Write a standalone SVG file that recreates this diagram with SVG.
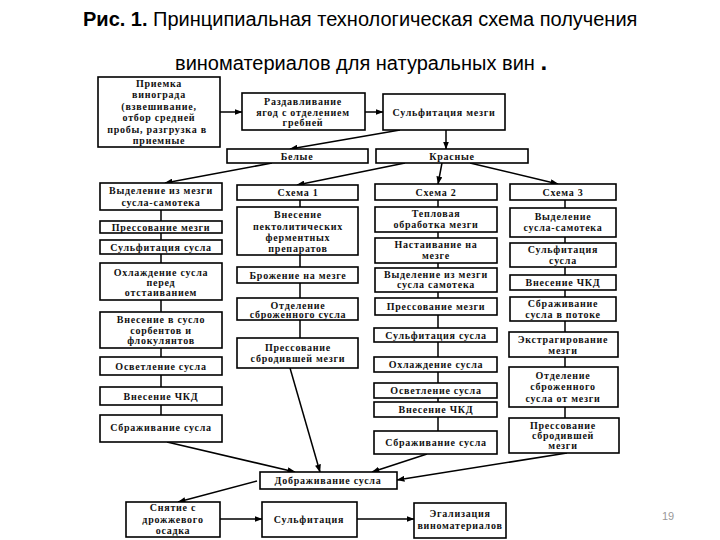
<svg xmlns="http://www.w3.org/2000/svg" width="720" height="540" viewBox="0 0 720 540">
<style>
.b{fill:#fff;stroke:#000;stroke-width:1.6}
.t{font-family:"Liberation Serif","DejaVu Serif",serif;font-size:10px;font-weight:bold;letter-spacing:0.75px;text-anchor:middle;fill:#111}
.c{stroke:#000;stroke-width:1.5;fill:none}
.a{stroke:#000;stroke-width:1.5;fill:none;marker-end:url(#ah)}
.h{font-family:"Liberation Sans",Arial,sans-serif;font-size:20px;fill:#000}
</style>
<defs>
<marker id="ah" markerWidth="8" markerHeight="6" refX="7.5" refY="3" orient="auto" markerUnits="userSpaceOnUse">
<path d="M0,0 L8,3 L0,6 Z" fill="#000"/>
</marker>
</defs>
<rect width="720" height="540" fill="#fff"/>
<text class="h" x="83" y="26"><tspan font-weight="bold">Рис. 1.</tspan> Принципиальная технологическая схема получения</text>
<text class="h" x="175" y="70">виноматериалов для натуральных вин <tspan font-weight="bold" font-size="24">.</tspan></text>

<g id="connectors">
<path class="a" d="M220,112 L242,112"/>
<path class="a" d="M365,112 L383,112"/>
<path class="a" d="M400,130 L290,149"/>
<path class="a" d="M446,130 L446,149"/>
<path class="a" d="M272,163 L165,183"/>
<path class="a" d="M405,163 L297,185"/>
<path class="a" d="M442,163 L438,184"/>
<path class="a" d="M470,163 L558,184"/>
<path class="c" d="M161,210 V221 M161,233 V240 M161,254 V263 M161,300 V312 M161,348 V357 M161,375 V387 M161,405 V415"/>
<path class="c" d="M300,200 V207 M300,255 V267 M300,283 V298 M300,320 V338"/>
<path class="c" d="M438,200 V207 M438,232 V238 M438,263 V268 M438,292 V298 M438,315 V328 M438,342 V357 M438,372 V383 M438,398 V402 M438,417 V431"/>
<path class="c" d="M565,200 V208 M565,237 V243 M565,267 V275 M565,290 V297 M565,321 V332 M565,357 V367 M565,407 V418"/>
<path class="a" d="M167,442 L295,472"/>
<path class="a" d="M290,368 L320,472"/>
<path class="a" d="M427,454 L372,472"/>
<path class="a" d="M567,453 L397,480"/>
<path class="a" d="M257,481 L178,502"/>
<path class="a" d="M220,519 L262,519"/>
<path class="a" d="M357,519 L414,519"/>
</g>

<g id="n-priemka"><rect class="b" x="98" y="77" width="122" height="70"/>
<text class="t" x="159" y="86.5">Приемка</text><text class="t" x="159" y="98">винограда</text><text class="t" x="159" y="109.5">(взвешивание,</text><text class="t" x="159" y="121">отбор средней</text><text class="t" x="157" y="132.5">пробы, разгрузка в</text><text class="t" x="159" y="144">приемные</text></g>
<g id="n-razdav"><rect class="b" x="242" y="93" width="123" height="37"/>
<text class="t" x="303" y="104.5">Раздавливание</text><text class="t" x="303" y="115.5">ягод с отделением</text><text class="t" x="303" y="126">гребней</text></g>
<g id="n-sulf-mezgi"><rect class="b" x="383" y="94" width="122" height="36"/>
<text class="t" x="444" y="115.5">Сульфитация мезги</text></g>
<g id="n-belye"><rect class="b" x="227" y="149" width="141" height="14"/>
<text class="t" x="297" y="159.5">Белые</text></g>
<g id="n-krasnye"><rect class="b" x="376" y="149" width="152" height="14"/>
<text class="t" x="452" y="159.5">Красные</text></g>

<g id="l1"><rect class="b" x="100" y="183" width="122" height="27"/><text class="t" x="161" y="193.5">Выделение из мезги</text><text class="t" x="161" y="205.5">сусла-самотека</text></g>
<g id="l2"><rect class="b" x="100" y="221" width="122" height="12"/><text class="t" x="161" y="230.5">Прессование мезги</text></g>
<g id="l3"><rect class="b" x="100" y="240" width="122" height="14"/><text class="t" x="161" y="250.5">Сульфитация сусла</text></g>
<g id="l4"><rect class="b" x="100" y="263" width="122" height="37"/><text class="t" x="161" y="275.5">Охлаждение сусла</text><text class="t" x="161" y="285.5">перед</text><text class="t" x="161" y="295.5">отстаиванием</text></g>
<g id="l5"><rect class="b" x="100" y="312" width="122" height="36"/><text class="t" x="161" y="322.5">Внесение в сусло</text><text class="t" x="161" y="333.5">сорбентов и</text><text class="t" x="161" y="343.5">флокулянтов</text></g>
<g id="l6"><rect class="b" x="100" y="357" width="122" height="18"/><text class="t" x="161" y="369.5">Осветление сусла</text></g>
<g id="l7"><rect class="b" x="100" y="387" width="122" height="18"/><text class="t" x="161" y="399.5">Внесение ЧКД</text></g>
<g id="l8"><rect class="b" x="100" y="415" width="122" height="27"/><text class="t" x="161" y="431">Сбраживание сусла</text></g>

<g id="s1a"><rect class="b" x="237" y="185" width="121" height="15"/><text class="t" x="298" y="195.5">Схема 1</text></g>
<g id="s1b"><rect class="b" x="237" y="207" width="121" height="48"/><text class="t" x="298" y="217.5">Внесение</text><text class="t" x="298" y="229.5">пектолитических</text><text class="t" x="298" y="241">ферментных</text><text class="t" x="298" y="252">препаратов</text></g>
<g id="s1c"><rect class="b" x="237" y="267" width="121" height="16"/><text class="t" x="298" y="278.5">Брожение на мезге</text></g>
<g id="s1d"><rect class="b" x="237" y="298" width="121" height="22"/><text class="t" x="298" y="308.5">Отделение</text><text class="t" x="298" y="318">сброженного сусла</text></g>
<g id="s1e"><rect class="b" x="237" y="338" width="121" height="30"/><text class="t" x="298" y="351">Прессование</text><text class="t" x="298" y="362">сбродившей мезги</text></g>

<g id="s2a"><rect class="b" x="375" y="184" width="122" height="16"/><text class="t" x="436" y="195.5">Схема 2</text></g>
<g id="s2b"><rect class="b" x="375" y="207" width="122" height="25"/><text class="t" x="436" y="216.5">Тепловая</text><text class="t" x="436" y="228">обработка мезги</text></g>
<g id="s2c"><rect class="b" x="375" y="238" width="122" height="25"/><text class="t" x="436" y="247.5">Настаивание на</text><text class="t" x="436" y="259">мезге</text></g>
<g id="s2d"><rect class="b" x="375" y="268" width="122" height="24"/><text class="t" x="436" y="277.5">Выделение из мезги</text><text class="t" x="436" y="288">сусла самотека</text></g>
<g id="s2e"><rect class="b" x="375" y="298" width="122" height="17"/><text class="t" x="436" y="310">Прессование мезги</text></g>
<g id="s2f"><rect class="b" x="374" y="328" width="123" height="14"/><text class="t" x="436" y="338.5">Сульфитация сусла</text></g>
<g id="s2g"><rect class="b" x="374" y="357" width="123" height="15"/><text class="t" x="436" y="367.5">Охлаждение сусла</text></g>
<g id="s2h"><rect class="b" x="374" y="383" width="123" height="15"/><text class="t" x="436" y="393.5">Осветление сусла</text></g>
<g id="s2i"><rect class="b" x="374" y="402" width="123" height="15"/><text class="t" x="436" y="412.5">Внесение ЧКД</text></g>
<g id="s2j"><rect class="b" x="374" y="431" width="123" height="23"/><text class="t" x="436" y="445.5">Сбраживание сусла</text></g>

<g id="s3a"><rect class="b" x="510" y="184" width="106" height="16"/><text class="t" x="563" y="195.5">Схема 3</text></g>
<g id="s3b"><rect class="b" x="510" y="208" width="106" height="29"/><text class="t" x="563" y="220">Выделение</text><text class="t" x="563" y="230.5">сусла-самотека</text></g>
<g id="s3c"><rect class="b" x="510" y="243" width="106" height="24"/><text class="t" x="563" y="253">Сульфитация</text><text class="t" x="563" y="264">сусла</text></g>
<g id="s3d"><rect class="b" x="510" y="275" width="106" height="15"/><text class="t" x="563" y="285.5">Внесение ЧКД</text></g>
<g id="s3e"><rect class="b" x="510" y="297" width="106" height="24"/><text class="t" x="563" y="306.5">Сбраживание</text><text class="t" x="563" y="317.5">сусла в потоке</text></g>
<g id="s3f"><rect class="b" x="509" y="332" width="109" height="25"/><text class="t" x="563" y="343">Экстрагирование</text><text class="t" x="563" y="353.5">мезги</text></g>
<g id="s3g"><rect class="b" x="509" y="367" width="109" height="40"/><text class="t" x="563" y="378.5">Отделение</text><text class="t" x="563" y="390">сброженного</text><text class="t" x="563" y="401.5">сусла от мезги</text></g>
<g id="s3h"><rect class="b" x="509" y="418" width="110" height="35"/><text class="t" x="563" y="428.5">Прессование</text><text class="t" x="563" y="438.5">сбродившей</text><text class="t" x="563" y="449">мезги</text></g>

<g id="b1"><rect class="b" x="260" y="472" width="137" height="17"/><text class="t" x="328" y="484">Дображивание сусла</text></g>
<g id="b2"><rect class="b" x="126" y="502" width="94" height="35"/><text class="t" x="173" y="510.5">Снятие с</text><text class="t" x="173" y="522.5">дрожжевого</text><text class="t" x="173" y="533.5">осадка</text></g>
<g id="b3"><rect class="b" x="262" y="502" width="95" height="35"/><text class="t" x="309" y="522.5">Сульфитация</text></g>
<g id="b4"><rect class="b" x="414" y="503" width="92" height="35"/><text class="t" x="460" y="516.5">Эгализация</text><text class="t" x="460" y="528.5" letter-spacing="0">виноматериалов</text></g>

<text x="668" y="520" font-family="'Liberation Sans',Arial,sans-serif" font-size="11" fill="#999" text-anchor="middle">19</text>
</svg>
